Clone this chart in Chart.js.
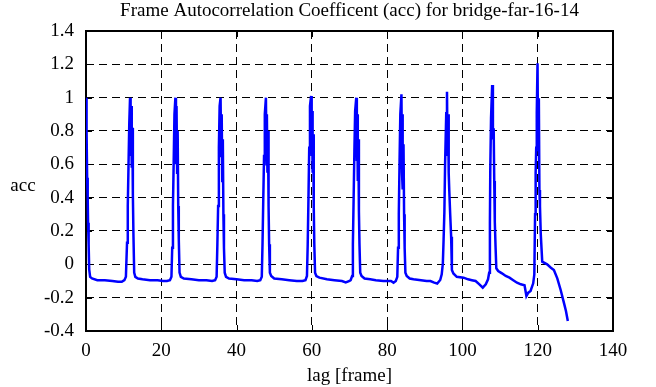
<!DOCTYPE html>
<html>
<head>
<meta charset="utf-8">
<script src="https://cdn.jsdelivr.net/npm/chart.js@4/dist/chart.umd.min.js"></script>
<style>
    body { margin: 0; background: #ffffff; }
    #wrap { width: 656px; height: 387px; position: relative; }
</style>
</head>
<body>
<div id="wrap"><canvas id="accChart"></canvas></div>
<script>
const chartTitle = 'Frame Autocorrelation Coefficent (acc) for bridge-far-16-14';
const xTitle = 'lag [frame]';
const yTitle = 'acc';

const xTicks = [0, 20, 40, 60, 80, 100, 120, 140];
const yTicks = [-0.4, -0.2, 0, 0.2, 0.4, 0.6, 0.8, 1, 1.2, 1.4];

// lag values (frames)
const lagValues = [
    0, 0.15, 0.3, 0.45, 0.55, 0.7, 0.85, 1.1, 1.6, 3, 5, 7, 8.5, 9.5, 10.2, 10.6,
    10.9, 11.1, 11.3, 11.5, 11.7, 11.85, 12.0, 12.15, 12.3, 12.45, 12.6, 12.8, 13.1, 13.8,
    15, 17, 19, 20.5, 21.5, 22.3, 22.7,
    22.9, 23.1, 23.3, 23.5, 23.75, 23.9, 24.05, 24.2, 24.35, 24.5, 24.65, 24.85, 25.2, 26,
    28, 30, 32, 33.5, 34.3, 34.7,
    34.9, 35.1, 35.3, 35.5, 35.75, 35.9, 36.05, 36.2, 36.35, 36.5, 36.65, 36.85, 37.2, 38,
    40, 42, 44, 45.5, 46.3, 46.7,
    46.9, 47.1, 47.3, 47.5, 47.8, 47.95, 48.05, 48.2, 48.35, 48.5, 48.65, 48.85, 49.2, 50,
    52, 54, 56, 57.5, 58.3, 58.7,
    58.9, 59.1, 59.3, 59.5, 59.8, 59.95, 60.05, 60.2, 60.35, 60.5, 60.65, 60.85, 61.2, 62,
    64, 66, 68, 69, 70, 70.3, 70.7,
    70.9, 71.1, 71.3, 71.5, 71.8, 71.95, 72.05, 72.2, 72.35, 72.5, 72.65, 72.85, 73.2, 74,
    75.5, 77, 79, 81, 81.7, 82.3, 82.7,
    82.9, 83.1, 83.3, 83.5, 83.8, 83.95, 84.05, 84.2, 84.35, 84.5, 84.65, 84.85, 85.2, 86,
    87, 89, 90.5, 91.5, 92.5, 93.3, 94.1, 94.5,
    94.8, 95.0, 95.2, 95.4, 95.7, 95.9, 96.05, 96.2, 96.35, 96.5, 96.75, 97.0, 97.2,
    97.6, 98.5, 100.3, 101.5, 102.5, 103.5, 104.5, 105.4, 106.2, 106.8, 107.1,
    107.3, 107.4, 107.6, 107.9, 108.1, 108.3, 108.45, 108.6, 108.8, 109.0,
    109.5, 110.5, 111.5, 112.5, 113.5, 114.5, 115.5, 116.5, 117, 117.5, 118.1, 118.8, 119.1,
    119.3, 119.45, 119.6, 119.75, 119.95, 120.1, 120.3, 120.45, 120.6, 120.8, 121.2,
    122.5, 123.5, 124.3, 125.2, 126.1, 127, 127.5, 128
];

// acc values, same order as lagValues
const accValues = [
    1.0, 0.8, 0.52, 0.4, 0.25, 0.12, -0.03, -0.075, -0.085, -0.095, -0.095, -0.1, -0.105, -0.105, -0.095, -0.075,
    0.13, 0.35, 0.6, 0.85, 1.0, 0.65, 0.95, 0.58, 0.82, 0.42, 0.18, -0.05, -0.075, -0.085,
    -0.09, -0.095, -0.095, -0.1, -0.1, -0.095, -0.075,
    0.1, 0.35, 0.62, 0.9, 1.0, 0.6, 0.95, 0.55, 0.8, 0.35, 0.15, -0.05, -0.075, -0.085,
    -0.09, -0.095, -0.095, -0.1, -0.095, -0.075,
    0.12, 0.35, 0.7, 0.95, 1.0, 0.65, 0.9, 0.5, 0.75, 0.3, 0.1, -0.05, -0.075, -0.085,
    -0.09, -0.095, -0.095, -0.1, -0.095, -0.075,
    0.13, 0.4, 0.65, 0.9, 1.0, 0.6, 0.9, 0.55, 0.8, 0.35, 0.12, -0.05, -0.07, -0.085,
    -0.09, -0.095, -0.1, -0.1, -0.095, -0.07,
    0.12, 0.4, 0.7, 0.95, 1.01, 0.65, 0.92, 0.55, 0.78, 0.35, 0.12, -0.05, -0.07, -0.08,
    -0.09, -0.095, -0.1, -0.108, -0.1, -0.095, -0.07,
    0.12, 0.4, 0.68, 0.92, 1.0, 0.62, 0.9, 0.5, 0.75, 0.32, 0.12, -0.05, -0.07, -0.085,
    -0.09, -0.095, -0.1, -0.1, -0.11, -0.1, -0.075,
    0.1, 0.3, 0.62, 0.9, 1.02, 0.55, 0.9, 0.45, 0.72, 0.3, 0.1, -0.05, -0.07, -0.085,
    -0.09, -0.095, -0.1, -0.1, -0.11, -0.115, -0.094, -0.06,
    0.006, 0.15, 0.31, 0.606, 0.906, 1.036, 0.65, 0.9, 0.55, 0.446, 0.3, 0.166, -0.034,
    -0.055, -0.075, -0.08, -0.09, -0.095, -0.1, -0.12, -0.14, -0.12, -0.09, -0.05,
    0.256, 0.566, 0.876, 1.076, 0.75, 0.816, 0.5, 0.256, 0.106, -0.024,
    -0.04, -0.054, -0.07, -0.08, -0.095, -0.11, -0.12, -0.125, -0.19, -0.17, -0.16, -0.114, -0.06,
    0.3, 0.55, 0.7, 0.906, 1.206, 0.686, 0.996, 0.446, 0.35, 0.186, 0.016,
    0.0, -0.02, -0.034, -0.084, -0.154, -0.234, -0.28, -0.34
];

const FONT = '"Liberation Serif", "Times New Roman", serif';
const FONT_SIZE = 19;

const points = lagValues.map((lag, i) => ({ x: lag, y: accValues[i] }));

// gnuplot-like labels: 1 instead of 1.0, 0 instead of 0.0
const tickLabel = value => String(parseFloat(Number(value).toFixed(2)));

// frame, inward tick marks, title and the horizontal "acc" label
const framePlugin = {
    id: 'frame',
    beforeDatasetsDraw(chart) {
        const { ctx, chartArea: a, scales } = chart;
        const tickLen = 6;
        ctx.save();
        ctx.strokeStyle = '#000';
        ctx.lineWidth = 1;
        ctx.beginPath();
        xTicks.forEach(v => {
            const px = Math.round(scales.x.getPixelForValue(v)) + 0.5;
            ctx.moveTo(px, a.bottom); ctx.lineTo(px, a.bottom - tickLen);
            ctx.moveTo(px, a.top); ctx.lineTo(px, a.top + tickLen);
        });
        yTicks.forEach(v => {
            const py = Math.round(scales.y.getPixelForValue(v)) + 0.5;
            ctx.moveTo(a.left, py); ctx.lineTo(a.left + tickLen, py);
            ctx.moveTo(a.right, py); ctx.lineTo(a.right - tickLen, py);
        });
        ctx.stroke();
        ctx.lineWidth = 2;
        ctx.strokeRect(a.left, a.top, a.right - a.left, a.bottom - a.top);
        ctx.restore();
    },
    afterDraw(chart) {
        const { ctx, chartArea: a } = chart;
        ctx.save();
        ctx.font = FONT_SIZE + 'px ' + FONT;
        ctx.fillStyle = '#000';
        ctx.textAlign = 'center';
        ctx.textBaseline = 'middle';
        ctx.fillText(chartTitle, (a.left + a.right) / 2, 11);
        ctx.fillText(yTitle, 23, (a.top + a.bottom) / 2 + 5);
        ctx.restore();
    }
};

new Chart(document.getElementById('accChart').getContext('2d'), {
    type: 'line',
    data: {
        datasets: [{
            label: yTitle,
            data: points,
            borderColor: '#0000ff',
            borderWidth: 2.5,
            pointRadius: 0,
            fill: false,
            tension: 0
        }]
    },
    options: {
        animation: false,
        responsive: true,
        maintainAspectRatio: false,
        layout: { padding: { left: 0, right: 43, top: 31, bottom: 0 } },
        scales: {
            x: {
                type: 'linear',
                min: 0,
                max: 140,
                afterBuildTicks: axis => { axis.ticks = xTicks.map(v => ({ value: v })); },
                afterFit: axis => { axis.height = 56; },
                ticks: { color: '#000', font: { family: FONT, size: FONT_SIZE }, padding: 9, maxRotation: 0, callback: tickLabel },
                grid: { color: '#000', lineWidth: 1, drawTicks: false },
                border: { display: false, dash: [8, 5] },
                title: { display: true, text: xTitle, color: '#000', font: { family: FONT, size: FONT_SIZE }, padding: { top: 0, bottom: 0 } }
            },
            y: {
                type: 'linear',
                min: -0.4,
                max: 1.4,
                afterBuildTicks: axis => { axis.ticks = yTicks.map(v => ({ value: v })); },
                afterFit: axis => { axis.width = 86; },
                ticks: { color: '#000', font: { family: FONT, size: FONT_SIZE }, padding: 12, callback: tickLabel },
                grid: { color: '#000', lineWidth: 1, drawTicks: false },
                border: { display: false, dash: [8, 5] }
            }
        },
        plugins: {
            legend: { display: false },
            tooltip: { enabled: false },
            title: { display: false }
        }
    },
    plugins: [framePlugin]
});
</script>
</body>
</html>
